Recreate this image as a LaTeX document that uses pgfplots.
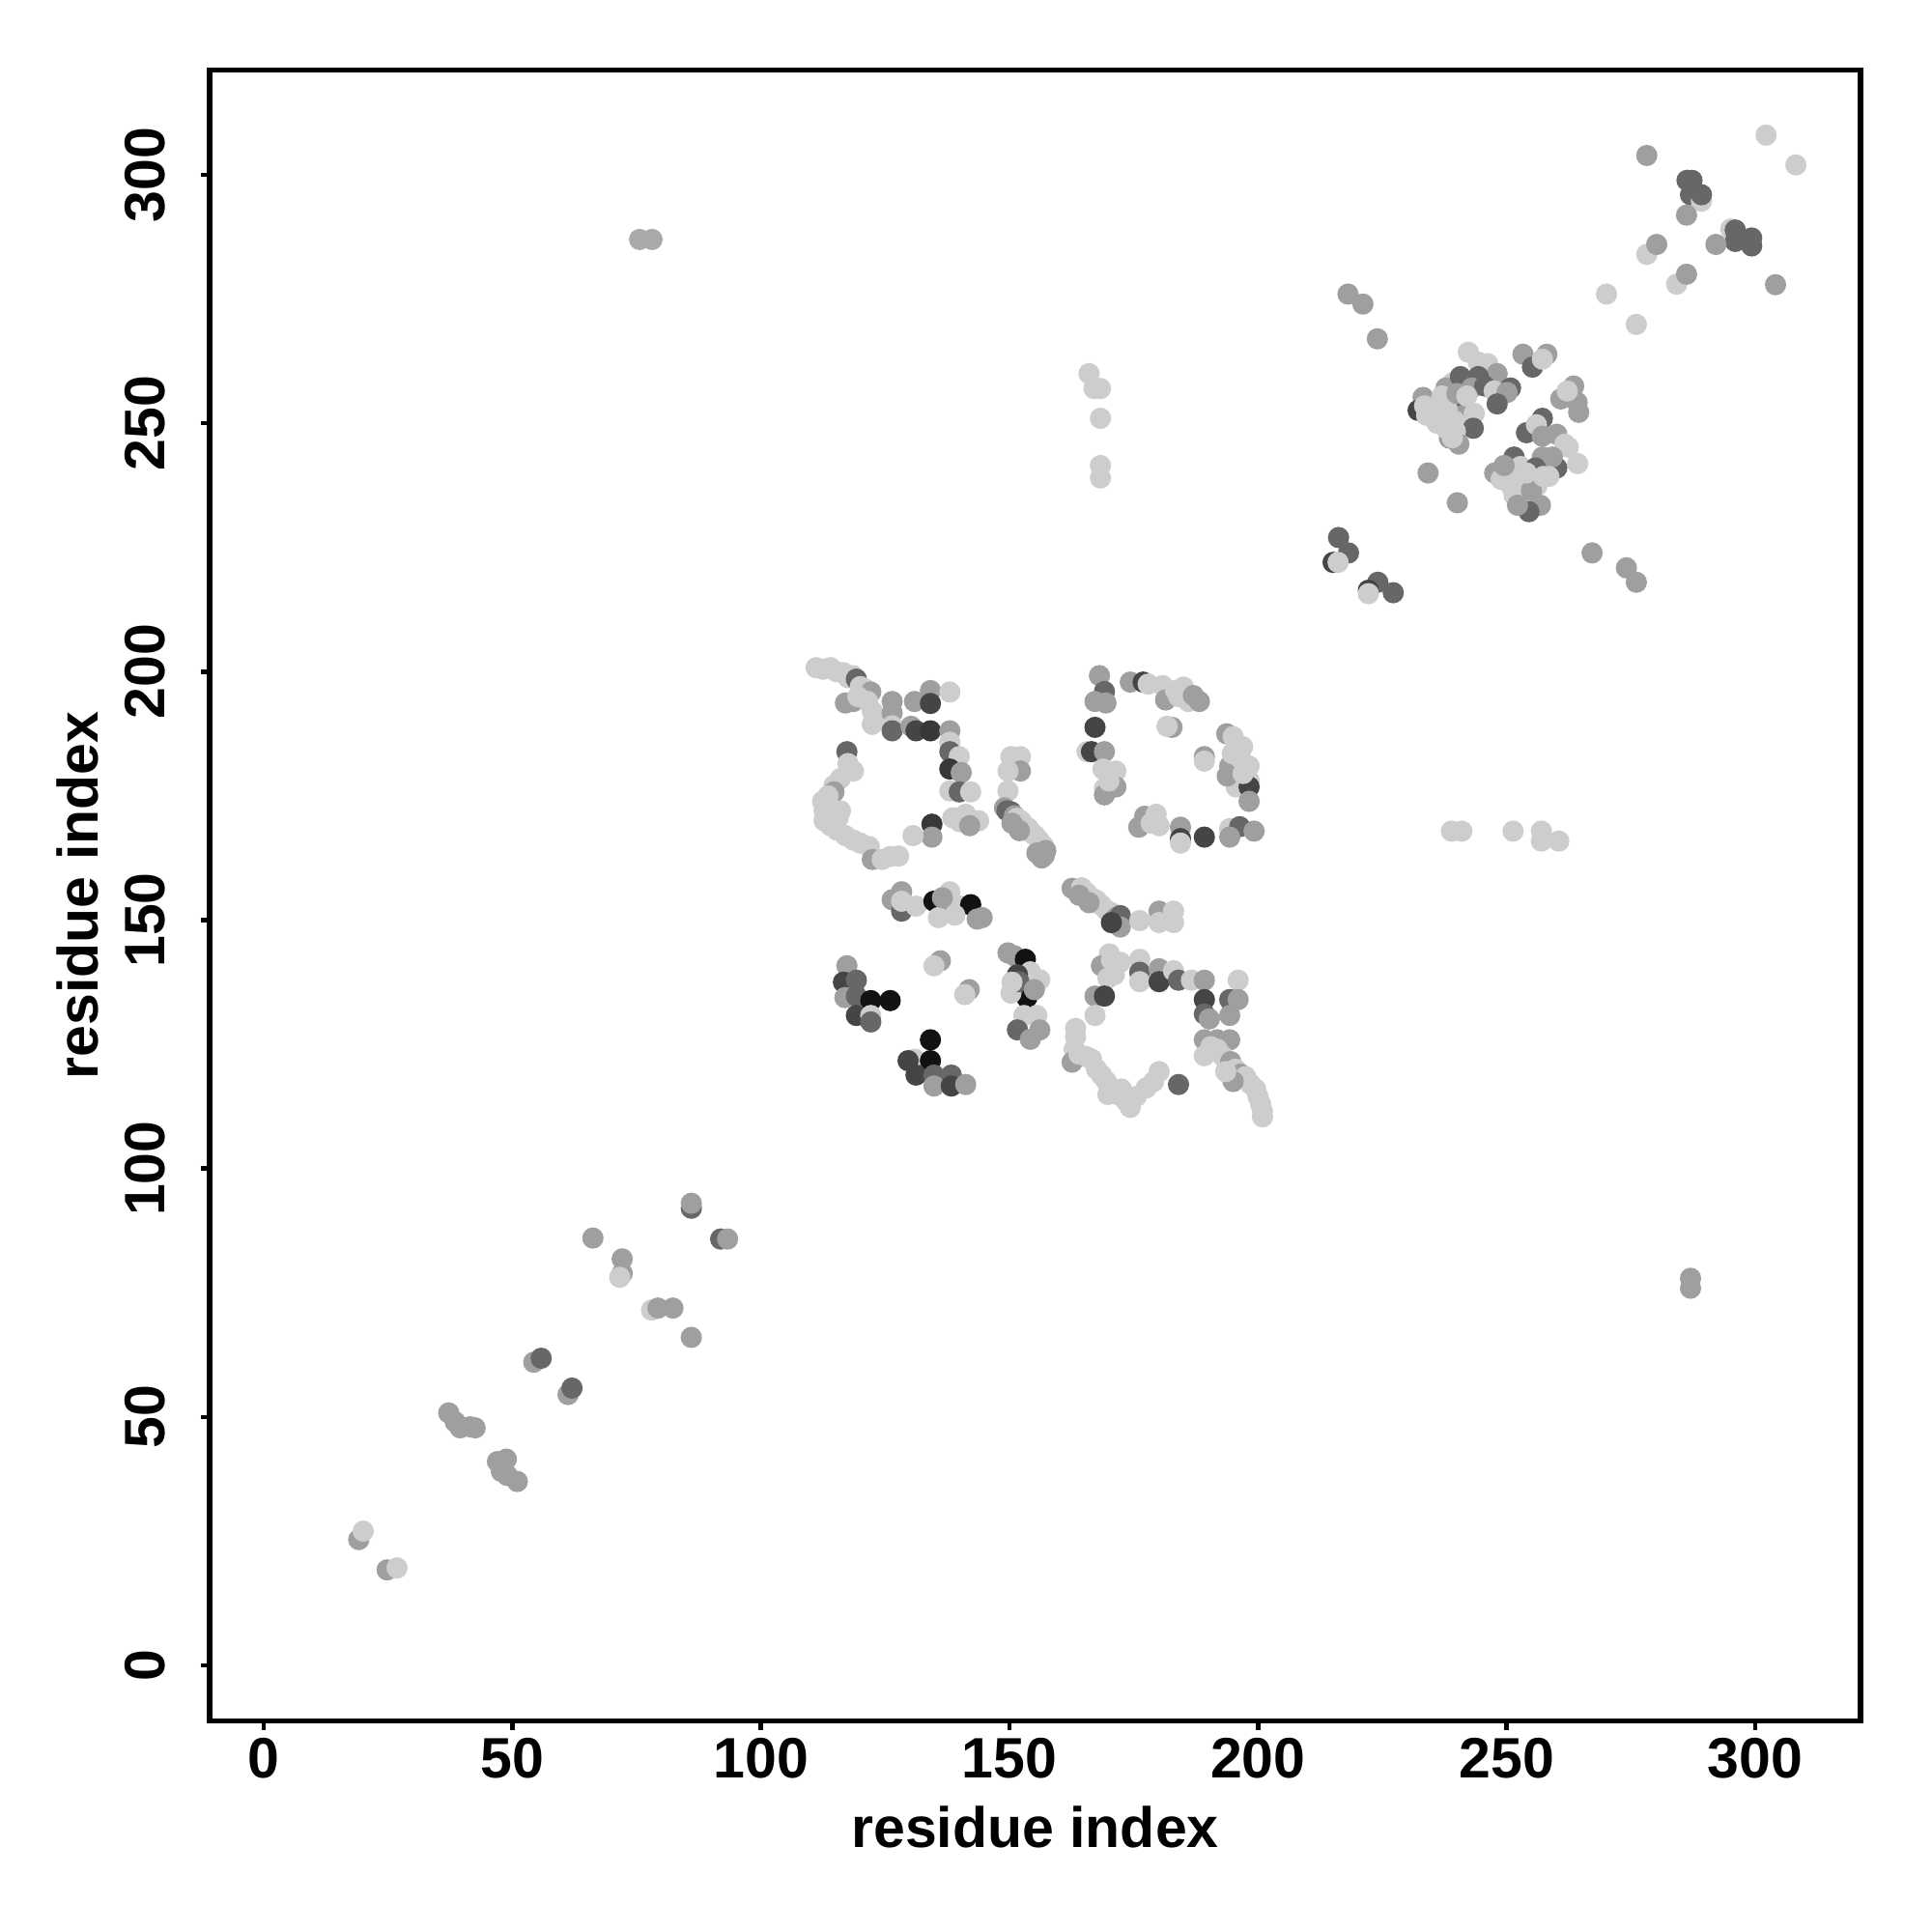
\documentclass[border=0pt]{standalone}
\usepackage{fontspec}
\setmainfont{Liberation Sans}
\usepackage{pgfplots}
\usepackage{pgfplotstable}
\pgfplotsset{compat=1.18}

% contact map: x y grey (0 = black, 1 = white)
\pgfplotstableread{
x y c
19.1 25.3 0.62
20.0 27.0 0.80
24.8 19.2 0.62
26.8 19.6 0.80
37.2 50.8 0.62
38.5 49.0 0.62
39.5 47.8 0.62
41.5 48.0 0.62
42.5 47.8 0.62
47.0 41.0 0.62
47.8 39.0 0.62
48.8 41.5 0.62
49.0 38.2 0.62
51.0 37.0 0.62
54.3 61.0 0.62
55.8 61.8 0.40
61.2 54.5 0.62
62.0 55.8 0.40
66.2 86.0 0.62
72.1 81.8 0.62
72.1 78.9 0.62
71.6 78.1 0.80
78.0 71.5 0.80
79.3 71.9 0.62
82.3 71.9 0.62
86.0 66.0 0.62
86.0 92.0 0.40
86.0 93.0 0.62
91.9 85.8 0.40
93.3 85.8 0.62
75.6 287.0 0.66
78.1 287.0 0.66
287.0 77.9 0.62
287.0 75.9 0.62
166.0 260.0 0.80
167.0 257.0 0.80
168.3 257.0 0.80
168.3 251.0 0.80
168.3 241.5 0.80
168.3 239.0 0.80
238.9 167.9 0.80
241.0 167.9 0.80
251.3 167.9 0.80
257.0 167.9 0.80
257.0 165.9 0.80
260.5 165.9 0.80
}\sparse

\pgfplotstableread{
x y c
216.2 227.0 0.40
218.2 223.9 0.40
215.1 222.0 0.27
216.1 222.0 0.80
224.1 218.0 0.40
222.2 216.4 0.27
222.2 215.7 0.80
227.2 215.9 0.40
218.1 276.0 0.62
221.1 274.0 0.62
224.0 267.0 0.62
234.2 240.0 0.62
240.1 234.0 0.62
267.2 223.9 0.62
274.1 220.9 0.62
276.1 218.0 0.62
270.1 276.0 0.80
276.1 269.9 0.80
278.2 303.9 0.62
302.2 308.0 0.80
308.2 302.0 0.80
286.3 298.9 0.40
287.3 298.9 0.40
287.0 296.0 0.40
289.2 294.7 0.80
289.2 296.0 0.40
286.2 291.9 0.62
295.1 289.1 0.80
296.0 288.9 0.40
296.0 286.6 0.40
299.3 287.3 0.40
299.3 285.7 0.40
292.1 286.0 0.62
278.2 284.0 0.80
280.2 286.0 0.62
284.2 278.0 0.80
286.2 280.0 0.62
304.1 277.9 0.62
233.2 255.2 0.62
234.5 254.2 0.62
235.8 253.6 0.62
232.2 252.6 0.27
233.9 251.6 0.80
235.8 251.0 0.80
237.8 251.6 0.80
238.5 254.9 0.80
239.1 258.1 0.80
237.8 257.1 0.62
240.7 259.4 0.40
242.3 264.3 0.80
244.3 262.3 0.80
246.2 262.0 0.80
248.1 260.0 0.62
244.3 259.4 0.40
243.0 257.1 0.62
245.6 257.5 0.40
247.5 256.5 0.80
250.8 257.1 0.40
250.1 256.2 0.62
248.1 253.9 0.40
241.3 253.9 0.40
241.3 251.6 0.62
236.5 252.5 0.80
234.8 253.0 0.80
238.0 253.0 0.80
239.5 250.5 0.80
236.0 250.0 0.80
233.5 253.5 0.80
237.0 255.5 0.80
240.0 256.0 0.62
242.0 255.5 0.80
243.5 252.0 0.80
238.5 247.0 0.62
241.0 249.0 0.80
243.3 249.0 0.40
239.7 248.4 0.80
237.8 249.0 0.80
240.4 245.8 0.62
239.1 247.1 0.80
253.3 263.9 0.62
255.2 261.3 0.40
258.1 263.9 0.62
257.2 262.9 0.80
260.9 254.9 0.62
263.5 257.5 0.62
264.2 254.2 0.62
264.5 252.2 0.62
262.2 256.5 0.80
257.2 251.0 0.40
254.0 248.1 0.40
256.0 249.7 0.80
257.2 247.4 0.62
260.1 247.8 0.62
261.7 245.8 0.80
262.4 245.2 0.80
264.3 241.9 0.80
260.1 241.0 0.40
259.2 243.2 0.62
257.2 243.2 0.62
258.5 239.3 0.80
247.6 240.0 0.62
251.5 243.2 0.40
252.8 241.3 0.80
255.8 241.0 0.40
248.9 238.7 0.80
250.9 237.4 0.80
252.2 236.1 0.80
253.5 238.7 0.80
256.1 237.4 0.80
254.8 234.8 0.80
250.0 239.5 0.80
251.5 235.5 0.80
253.0 234.0 0.80
255.0 236.5 0.62
249.5 241.5 0.62
254.0 240.0 0.80
256.8 233.5 0.62
254.5 232.2 0.40
252.2 233.5 0.62
257.4 239.3 0.80
}\upper

\pgfplotstableread{
x y c
111.1 200.8 0.80
112.5 200.5 0.80
114.0 200.8 0.80
115.2 200.0 0.80
116.6 199.8 0.80
117.5 198.8 0.80
118.5 199.2 0.80
119.2 198.5 0.40
120.0 197.0 0.80
121.0 196.5 0.80
122.1 195.9 0.62
118.6 194.0 0.62
117.0 193.7 0.62
119.5 195.0 0.80
121.5 194.0 0.80
122.4 192.0 0.80
122.4 189.4 0.80
123.0 191.0 0.80
126.4 194.0 0.62
126.4 191.7 0.62
126.4 189.1 0.80
126.4 188.1 0.40
130.9 194.0 0.62
134.1 196.2 0.62
134.1 193.6 0.27
138.0 195.9 0.80
130.2 189.0 0.62
131.2 188.1 0.27
134.1 188.1 0.22
138.0 188.1 0.62
138.0 185.8 0.80
138.0 183.9 0.40
139.9 182.9 0.80
138.0 180.4 0.22
140.3 179.7 0.62
138.0 176.0 0.80
139.9 175.8 0.40
142.2 175.8 0.80
138.6 170.6 0.80
141.2 171.3 0.80
143.8 170.0 0.80
140.0 169.8 0.80
142.0 169.0 0.62
134.4 169.3 0.22
134.4 166.7 0.62
130.6 167.0 0.80
150.3 182.9 0.80
152.2 182.9 0.80
152.2 180.0 0.62
149.7 180.0 0.80
149.7 176.0 0.80
149.0 172.6 0.62
149.5 172.0 0.40
150.3 171.8 0.40
151.0 171.0 0.62
151.5 170.5 0.80
152.3 170.0 0.80
153.0 169.0 0.80
153.8 168.5 0.80
154.5 167.5 0.80
155.2 167.0 0.80
156.0 166.0 0.80
156.8 165.0 0.80
157.3 164.0 0.62
157.0 163.0 0.62
156.5 162.5 0.62
155.5 163.5 0.62
152.0 168.0 0.62
150.5 169.5 0.62
117.3 183.9 0.40
118.6 180.0 0.80
117.5 181.5 0.80
116.0 178.5 0.80
114.7 177.1 0.80
114.7 175.8 0.62
113.5 175.0 0.80
112.4 173.9 0.80
112.7 172.0 0.80
112.7 170.0 0.80
114.0 169.0 0.80
115.3 168.1 0.80
117.0 167.0 0.80
118.6 166.1 0.80
120.0 165.5 0.80
121.8 164.8 0.80
122.4 162.2 0.62
124.4 162.2 0.80
126.0 162.8 0.80
127.7 162.9 0.80
116.0 172.0 0.80
115.5 170.5 0.80
168.1 199.2 0.62
169.1 196.0 0.40
167.2 194.0 0.62
169.4 193.7 0.62
167.2 188.8 0.27
165.6 183.9 0.80
166.5 183.9 0.27
169.1 183.9 0.62
168.8 180.4 0.80
171.4 180.0 0.80
171.4 176.8 0.62
169.1 176.5 0.80
169.1 175.2 0.62
170.0 178.0 0.80
174.3 197.9 0.62
176.9 197.9 0.27
177.9 197.5 0.80
180.8 197.2 0.80
181.4 194.3 0.62
183.4 196.2 0.80
185.0 196.9 0.80
186.0 194.0 0.80
188.2 194.0 0.62
184.0 195.0 0.80
187.0 195.2 0.62
182.7 188.8 0.62
181.7 189.0 0.80
189.2 182.9 0.62
189.2 182.0 0.80
193.7 187.5 0.62
195.0 186.9 0.80
196.9 184.9 0.80
194.3 181.0 0.62
198.2 181.0 0.80
195.6 176.8 0.80
198.2 178.1 0.80
198.2 176.8 0.27
198.2 173.9 0.62
194.8 183.5 0.80
196.5 182.5 0.80
193.8 179.0 0.62
197.0 179.5 0.80
177.2 170.9 0.62
179.5 171.3 0.80
180.1 169.0 0.80
176.0 168.7 0.62
178.5 169.5 0.80
184.4 168.7 0.62
184.4 166.4 0.27
184.4 165.5 0.80
189.2 166.7 0.27
194.3 168.4 0.80
196.3 168.8 0.40
199.2 167.9 0.62
194.3 166.7 0.62
126.4 154.1 0.62
128.3 155.7 0.62
128.3 151.8 0.40
131.2 152.8 0.80
128.3 153.8 0.80
134.8 153.8 0.07
138.0 155.7 0.80
137.4 152.5 0.62
135.7 150.5 0.80
140.0 152.8 0.80
142.2 153.1 0.07
143.5 150.2 0.62
144.5 150.5 0.62
136.5 154.5 0.62
139.0 151.0 0.80
136.1 141.8 0.62
134.8 140.8 0.80
141.9 136.0 0.62
141.0 135.0 0.80
149.7 143.4 0.62
151.0 142.8 0.62
153.2 142.1 0.07
154.2 139.6 0.80
156.1 138.0 0.80
153.5 134.4 0.07
150.3 135.3 0.80
151.6 139.0 0.27
151.9 137.6 0.40
152.9 130.8 0.80
155.5 130.8 0.80
151.6 127.9 0.40
154.2 126.0 0.62
156.1 127.9 0.62
150.5 137.5 0.80
155.0 136.0 0.62
117.3 140.8 0.62
116.6 137.5 0.27
119.2 137.9 0.40
116.9 134.4 0.62
119.2 134.7 0.40
122.1 133.8 0.07
126.0 133.8 0.07
119.2 130.8 0.27
122.1 130.8 0.80
122.1 129.5 0.40
134.1 125.9 0.07
130.9 122.0 0.80
129.6 121.7 0.27
134.1 121.7 0.07
131.2 118.8 0.27
134.8 118.8 0.40
138.3 118.8 0.40
134.8 116.6 0.62
138.3 116.6 0.27
141.2 116.9 0.62
162.6 156.4 0.62
163.5 156.0 0.62
164.5 156.5 0.80
165.5 155.5 0.80
166.5 154.5 0.80
167.5 154.0 0.80
168.5 153.0 0.80
169.5 152.0 0.80
170.5 151.5 0.80
171.5 150.5 0.62
172.3 150.9 0.40
172.3 148.6 0.62
170.5 149.5 0.27
164.0 155.0 0.62
166.0 153.5 0.62
176.2 149.9 0.80
180.1 151.8 0.62
180.1 149.5 0.80
183.0 151.8 0.80
183.0 149.5 0.80
170.1 143.2 0.80
172.3 141.5 0.80
168.5 140.8 0.62
169.8 138.3 0.80
171.1 139.0 0.80
170.5 142.0 0.80
167.2 134.7 0.62
169.1 134.7 0.27
167.2 130.8 0.80
176.2 142.1 0.80
176.2 139.5 0.40
176.2 137.6 0.80
180.1 140.2 0.62
180.1 137.6 0.27
183.0 139.8 0.80
184.0 137.9 0.40
186.6 137.9 0.80
189.2 137.9 0.62
196.0 137.9 0.80
189.2 134.0 0.27
189.2 131.1 0.40
190.2 130.1 0.62
194.3 134.0 0.40
196.0 134.0 0.62
194.3 130.8 0.62
189.2 125.9 0.62
191.8 125.9 0.62
194.3 125.9 0.62
189.2 122.7 0.80
190.5 124.5 0.80
191.8 124.0 0.80
193.0 122.5 0.80
194.5 121.5 0.62
195.5 120.0 0.80
196.5 119.0 0.62
197.5 118.5 0.80
198.5 117.0 0.80
199.5 116.0 0.80
200.0 114.5 0.80
200.5 113.0 0.80
200.9 111.5 0.80
200.9 110.4 0.80
195.0 117.5 0.62
193.5 119.5 0.80
163.3 128.2 0.80
163.3 126.5 0.80
163.0 124.0 0.80
162.6 121.4 0.62
164.0 123.0 0.80
165.5 122.5 0.80
166.5 122.0 0.80
167.5 120.0 0.80
168.5 118.8 0.80
169.5 117.5 0.80
169.8 114.9 0.80
171.7 114.9 0.80
172.5 116.0 0.80
173.5 113.5 0.80
174.3 112.3 0.80
175.5 114.5 0.80
177.5 116.2 0.80
179.0 117.5 0.80
180.1 119.5 0.80
184.0 116.9 0.40
}\middle

\begin{document}
\fontsize{11.8}{14}\selectfont\bfseries
\begin{tikzpicture}
\useasboundingbox (-43.4pt,-43.6pt) rectangle (356.6pt,356.3pt);
\begin{axis}[
    at={(0,0)}, anchor=south west,
    scale only axis, width=341.8pt, height=341.8pt,
    xmin=-10.9, xmax=321.2, ymin=-11.2, ymax=321.1,
    xtick={0,50,...,300}, ytick={0,50,...,300},
    tick pos=left, tick align=outside, major tick length=1.8pt,
    axis line style={line width=1.1pt},
    every tick/.style={black, line width=0.9pt},
    /pgf/number format/assume math mode=true,
    tick label style={font=\fontsize{11.8}{14}\selectfont\bfseries},
    xticklabel style={anchor=north, inner sep=0pt, yshift=-1.6pt},
    yticklabel style={xshift=-7.1pt, rotate=90, anchor=south, inner sep=0pt},
    xlabel={residue index}, ylabel={residue index},
    label style={font=\fontsize{11.8}{14}\selectfont\bfseries},
    every axis x label/.style={at={(axis description cs:0.5,0)}, yshift=-26.2pt, anchor=base},
    every axis y label/.style={at={(axis description cs:0,0.5)}, xshift=-23pt, rotate=90, anchor=base},
    colormap={greys}{gray(0cm)=(0); gray(1cm)=(1)},
    point meta min=0, point meta max=1,
    clip=false,
    dots/.style={only marks, scatter, scatter src=explicit, mark=*, mark size=2.0pt,
        scatter/use mapped color={draw=mapped color, fill=mapped color}},
]
\addplot[dots] table[x=x, y=y, meta=c] {\sparse};
\addplot[dots] table[x=x, y=y, meta=c] {\upper};
\addplot[dots] table[x=x, y=y, meta=c] {\middle};
\end{axis}
\end{tikzpicture}
\end{document}
